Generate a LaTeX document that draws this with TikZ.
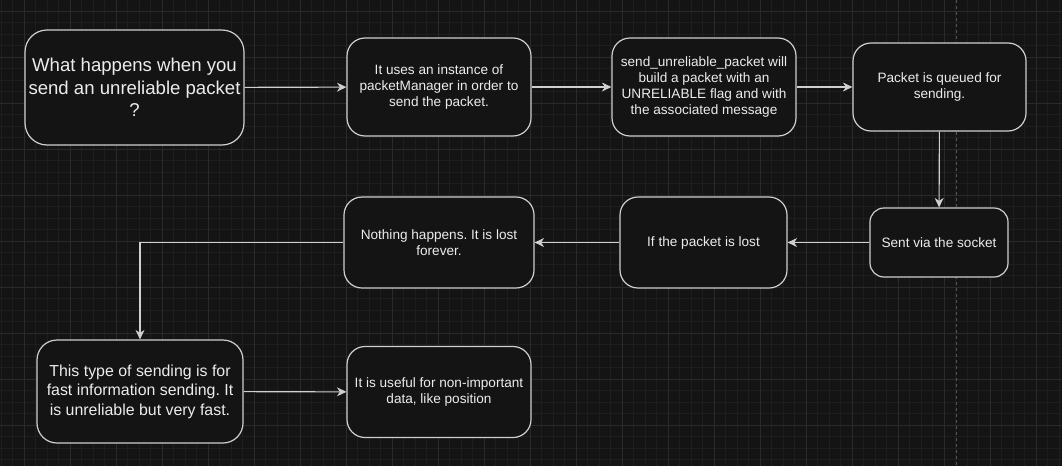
\documentclass[tikz,border=0pt]{standalone}
\usepackage{fontspec}
\setmainfont{Liberation Sans}
\usetikzlibrary{
    arrows.meta,
    positioning
}
\frenchspacing

\definecolor{bgdark}{HTML}{141414}
\definecolor{gridminor}{HTML}{1E1E1E}
\definecolor{gridmajor}{HTML}{2A2A2A}
\definecolor{boxline}{HTML}{CFCFCF}
\definecolor{boxtext}{HTML}{ECECEC}
\definecolor{pageline}{HTML}{555555}

\tikzset{
    box/.style={draw=boxline, fill=bgdark, line width=1.2pt, rounded corners=18pt, align=center, text=boxtext, inner sep=0pt, font=\fontsize{13.6}{16}\selectfont},
    flow/.style={draw=boxline, line width=1.1pt, -{Stealth[length=9.5pt, width=9pt, inset=3pt]}}
}

\begin{document}
\begin{tikzpicture}[x=1pt, y=-1pt]
                        \useasboundingbox (0, 0) rectangle (1062, 466);
                        \fill[bgdark] (0, 0) rectangle (1062, 466);
                        \foreach \k in {0,...,92} \draw[gridminor, line width=0.8pt] ({1+11.5*\k}, 0) -- ({1+11.5*\k}, 466);
                        \foreach \k in {1,...,41} \draw[gridminor, line width=0.8pt] (0, {-0.5+11.5*\k}) -- (1062, {-0.5+11.5*\k});
                        \foreach \k in {0,...,22} \draw[gridmajor, line width=1pt] ({24+46*\k}, 0) -- ({24+46*\k}, 466);
                        \foreach \k in {0,...,9} \draw[gridmajor, line width=1pt] (0, {11+46*\k}) -- (1062, {11+46*\k});
                        \draw[pageline, dash pattern=on 3pt off 3pt, line width=1pt] (956.5, 0) -- (956.5, 466);
                        \node[box, minimum width=219pt, minimum height=115pt, rounded corners=22pt, font=\fontsize{18.6}{22.3}\selectfont] (question) at (134.5, 87.5) {What happens when you\\send an unreliable packet\\?};
                        \node[box, minimum width=184pt, minimum height=98pt] (instance) at (439, 87) {It uses an instance of\\packetManager in order to\\send the packet.};
                        \node[box, minimum width=184pt, minimum height=98pt] (build) at (704, 87) {send\_unreliable\_packet will\\build a packet with an\\UNRELIABLE flag and with\\the associated message};
                        \node[box, minimum width=173pt, minimum height=88pt] (queue) at (939.5, 87) {Packet is queued for\\sending.};
                        \node[box, minimum width=138pt, minimum height=69pt, rounded corners=14pt] (socket) at (939, 242.5) {Sent via the socket};
                        \node[box, minimum width=167pt, minimum height=91pt] (lost) at (703.5, 242.5) {If the packet is lost};
                        \node[box, minimum width=190pt, minimum height=91pt] (nothing) at (439, 242.5) {Nothing happens. It is lost\\forever.};
                        \node[box, minimum width=206pt, minimum height=103pt, rounded corners=20pt, font=\fontsize{15.9}{19.5}\selectfont] (summary) at (140, 391.5) {This type of sending is for\\fast information sending. It\\is unreliable but very fast.};
                        \node[box, minimum width=184pt, minimum height=91pt] (useful) at (439, 392) {It is useful for non-important\\data, like position};
                        \draw
                        (question) edge[flow] (instance)
                        (instance) edge[flow] (build)
                        (build) edge[flow] (queue)
                        (queue) edge[flow] (socket)
                        (socket) edge[flow] (lost)
                        (lost) edge[flow] (nothing)
                        (summary) edge[flow] (useful);
                        \draw[flow] (nothing.west) -| (summary.north);
                    \end{tikzpicture}
\end{document}
